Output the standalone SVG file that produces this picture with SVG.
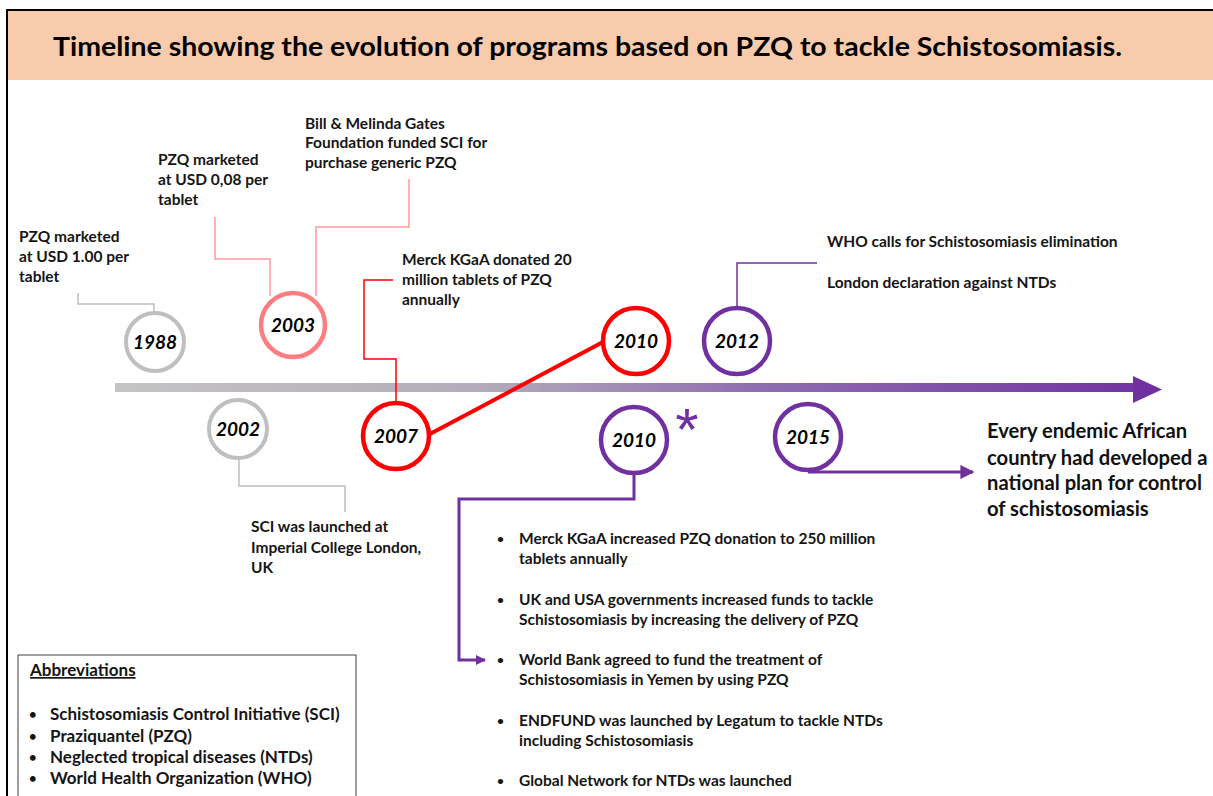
<svg xmlns="http://www.w3.org/2000/svg" width="1213" height="796" viewBox="0 0 1213 796">
<defs>
<linearGradient id="bar" x1="115" y1="0" x2="1162" y2="0" gradientUnits="userSpaceOnUse">
<stop offset="0" stop-color="#C4C4C4"/>
<stop offset="0.35" stop-color="#B3ABBA"/>
<stop offset="0.6" stop-color="#9070B0"/>
<stop offset="1" stop-color="#7030A0"/>
</linearGradient>
<marker id="arr" viewBox="0 0 10 10" refX="9" refY="5" markerWidth="10" markerHeight="10" markerUnits="userSpaceOnUse" orient="auto">
<path d="M0,0 L10,5 L0,10 z" fill="#7030A0"/>
</marker>
<marker id="arr2" viewBox="0 0 10 10" refX="9" refY="5" markerWidth="14" markerHeight="14" markerUnits="userSpaceOnUse" orient="auto">
<path d="M0,0 L10,5 L0,10 z" fill="#7030A0"/>
</marker>
</defs>
<style>
.t{font-family:Lato,"Liberation Sans",sans-serif;font-weight:bold;font-size:15.5px;fill:#151515}
.b{font-size:12px}
.yr{font-family:Lato,"Liberation Sans",sans-serif;font-weight:bold;font-style:italic;font-size:19px;fill:#000;text-anchor:middle}
.big{font-family:Lato,"Liberation Sans",sans-serif;font-weight:bold;font-size:20.2px;fill:#111}
.title{font-family:Lato,"Liberation Sans",sans-serif;font-weight:bold;font-size:26px;fill:#000}
.ab{font-family:Lato,"Liberation Sans",sans-serif;font-weight:bold;font-size:17px;fill:#151515}
.gray{fill:#fff;stroke:#BFBFBF;stroke-width:4}
.salmon{fill:#fff;stroke:#FF7C80;stroke-width:4.5}
.red{fill:#fff;stroke:#FF0000;stroke-width:4.5}
.purple{fill:#fff;stroke:#7030A0;stroke-width:4.5}
.c{fill:none}
</style>
<rect x="0" y="0" width="1213" height="796" fill="#fff"/>
<g id="frame">
<rect x="7" y="10" width="1220" height="800" fill="#fff" stroke="#000" stroke-width="2"/>
<rect x="8" y="11" width="1205" height="69" fill="#F8CBAD"/>
<text class="title" x="53" y="56" textLength="1069" lengthAdjust="spacingAndGlyphs">Timeline showing the evolution of programs based on PZQ to tackle Schistosomiasis.</text>
</g>
<g id="timeline">
<rect x="115" y="383" width="1020" height="9" fill="url(#bar)"/>
<polygon points="1133,376 1162,389.5 1133,403" fill="#7030A0"/>
</g>
<g id="connectors">
<path class="c" d="M78,293 V304 H154 V312" stroke="#BFBFBF" stroke-width="1.5"/>
<path class="c" d="M215,217 V259 H270 V296" stroke="#FF9999" stroke-width="1.5"/>
<path class="c" d="M316,296 V227 H409 V179" stroke="#FF9999" stroke-width="1.5"/>
<path class="c" d="M393,280 H364 V359 H396 V402" stroke="#FF0000" stroke-width="1.5"/>
<path class="c" d="M239,460 V486 H345 V512" stroke="#BFBFBF" stroke-width="1.5"/>
<line x1="428" y1="435" x2="603" y2="342" stroke="#FF0000" stroke-width="4"/>
<path class="c" d="M737,306 V263 H817" stroke="#7030A0" stroke-width="1.5"/>
<path class="c" d="M634,475 V499 H459 V660 H485" stroke="#7030A0" stroke-width="3" marker-end="url(#arr)"/>
<path class="c" d="M808,472 H973" stroke="#7030A0" stroke-width="3" marker-end="url(#arr2)"/>
</g>
<g id="n1988">
<circle class="gray" cx="155" cy="342" r="29"/>
<text class="yr" x="155" y="349">1988</text>
<text class="t" x="19" y="242">PZQ marketed</text>
<text class="t" x="19" y="262">at USD 1.00 per</text>
<text class="t" x="19" y="282">tablet</text>
</g>
<g id="n2002">
<circle class="gray" cx="238" cy="429" r="29"/>
<text class="yr" x="238" y="436">2002</text>
<text class="t" x="251" y="532">SCI was launched at</text>
<text class="t" x="251" y="553">Imperial College London,</text>
<text class="t" x="251" y="573">UK</text>
</g>
<g id="n2003">
<circle class="salmon" cx="293" cy="325" r="32"/>
<text class="yr" x="293" y="332">2003</text>
<text class="t" x="158" y="165">PZQ marketed</text>
<text class="t" x="158" y="185">at USD 0,08 per</text>
<text class="t" x="158" y="205">tablet</text>
<text class="t" x="305" y="129">Bill &amp; Melinda Gates</text>
<text class="t" x="305" y="148">Foundation funded SCI for</text>
<text class="t" x="305" y="168">purchase generic PZQ</text>
</g>
<g id="n2007">
<circle class="red" cx="396" cy="436" r="33"/>
<text class="yr" x="396" y="443">2007</text>
<text class="t" x="402" y="265">Merck KGaA donated 20</text>
<text class="t" x="402" y="285">million tablets of PZQ</text>
<text class="t" x="402" y="305">annually</text>
</g>
<g id="n2010a">
<circle class="red" cx="636" cy="341" r="33"/>
<text class="yr" x="636" y="348">2010</text>
</g>
<g id="n2012">
<circle class="purple" cx="737" cy="341" r="33"/>
<text class="yr" x="737" y="348">2012</text>
<text class="t" x="827" y="247">WHO calls for Schistosomiasis elimination</text>
<text class="t" x="827" y="288">London declaration against NTDs</text>
</g>
<g id="n2010b">
<circle class="purple" cx="634" cy="440" r="33"/>
<text class="yr" x="634" y="447">2010</text>
<text x="687" y="450" font-family="'Liberation Sans',sans-serif" font-size="60" fill="#7030A0" text-anchor="middle">*</text>
<g class="t">
<text class="b" x="497" y="543">•</text><text x="519" y="544">Merck KGaA increased PZQ donation to 250  million</text>
<text x="519" y="564">tablets annually</text>
<text class="b" x="497" y="604">•</text><text x="519" y="605">UK and USA governments increased funds to tackle</text>
<text x="519" y="625">Schistosomiasis by increasing the delivery of PZQ</text>
<text class="b" x="497" y="664">•</text><text x="519" y="665">World Bank agreed to fund the treatment of</text>
<text x="519" y="685">Schistosomiasis in Yemen by using PZQ</text>
<text class="b" x="497" y="725">•</text><text x="519" y="726">ENDFUND was  launched by Legatum to tackle NTDs</text>
<text x="519" y="746">including Schistosomiasis</text>
<text class="b" x="497" y="785">•</text><text x="519" y="786">Global Network for NTDs was launched</text>
</g>
</g>
<g id="n2015">
<circle class="purple" cx="808" cy="437" r="33"/>
<text class="yr" x="808" y="444">2015</text>
<text class="big" x="987" y="438">Every endemic African</text>
<text class="big" x="987" y="465">country had developed a</text>
<text class="big" x="987" y="490">national plan for control</text>
<text class="big" x="987" y="516">of schistosomiasis</text>
</g>
<g id="abbreviations">
<rect x="18" y="655" width="338" height="150" fill="#fff" stroke="#404040" stroke-width="1"/>
<text class="ab" x="30" y="676" text-decoration="underline">Abbreviations</text>
<g class="ab">
<text font-size="13" x="29" y="719">•</text><text x="50" y="720">Schistosomiasis Control Initiative (SCI)</text>
<text font-size="13" x="29" y="741">•</text><text x="50" y="742">Praziquantel (PZQ)</text>
<text font-size="13" x="29" y="762">•</text><text x="50" y="763">Neglected tropical diseases (NTDs)</text>
<text font-size="13" x="29" y="783">•</text><text x="50" y="784">World Health Organization (WHO)</text>
</g>
</g>
</svg>
